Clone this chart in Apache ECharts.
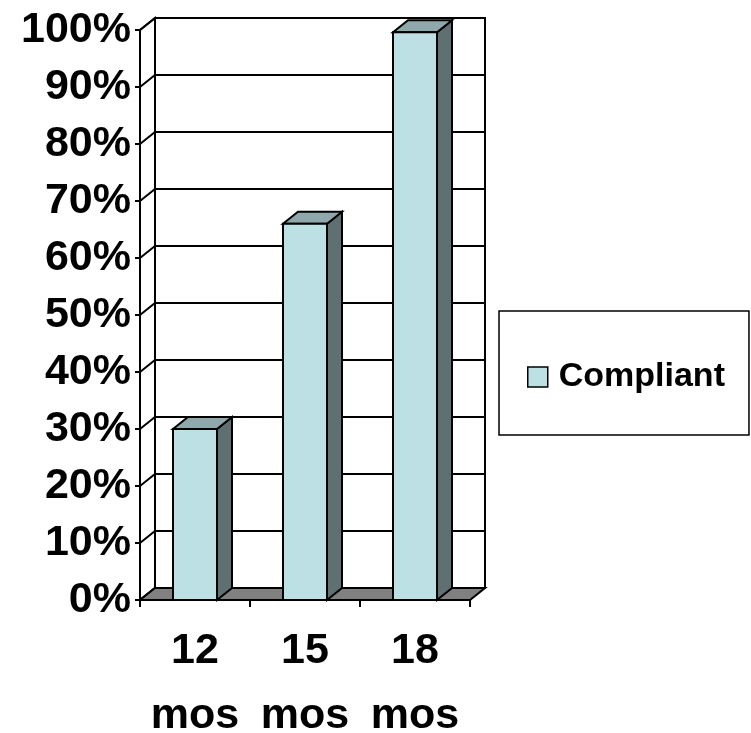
<!DOCTYPE html>
<html>
<head>
<meta charset="utf-8">
<script src="https://cdn.jsdelivr.net/npm/echarts@6/dist/echarts.min.js"></script>
<style>
  html, body { margin: 0; padding: 0; background: #fff; }
  #chart { width: 751px; height: 733px; }
</style>
</head>
<body>
<div id="chart"></div>
<script>
// chart data
const categories = ['12\nmos', '15\nmos', '18\nmos'];
const compliant = [30, 66, 99.6];
const yTicks = [0, 10, 20, 30, 40, 50, 60, 70, 80, 90, 100];

// 3d look
const DX = 15, DY = -12;
const FRONT = '#BCE0E4', TOP = '#8FA8AB', SIDE = '#5E7072', FLOOR = '#808080';
const LINE = { stroke: '#000', lineWidth: 2 };

function renderWalls(params, api) {
    const cs = params.coordSys;
    const x0 = cs.x, x1 = cs.x + cs.width;
    const yTop = cs.y, yBot = cs.y + cs.height;
    const children = [];
    // back wall
    children.push({
        type: 'polygon',
        shape: { points: [[x0 + DX, yTop + DY], [x1 + DX, yTop + DY], [x1 + DX, yBot + DY], [x0 + DX, yBot + DY]] },
        style: Object.assign({ fill: '#fff' }, LINE)
    });
    // left wall
    children.push({
        type: 'polygon',
        shape: { points: [[x0, yTop], [x0 + DX, yTop + DY], [x0 + DX, yBot + DY], [x0, yBot]] },
        style: Object.assign({ fill: '#fff' }, LINE)
    });
    // gridlines on the walls
    yTicks.forEach(t => {
        const y = api.coord([0, t])[1];
        children.push({
            type: 'polyline',
            shape: { points: [[x0, y], [x0 + DX, y + DY], [x1 + DX, y + DY]] },
            style: Object.assign({ fill: null }, LINE)
        });
    });
    // floor
    children.push({
        type: 'polygon',
        shape: { points: [[x0, yBot], [x1, yBot], [x1 + DX, yBot + DY], [x0 + DX, yBot + DY]] },
        style: Object.assign({ fill: FLOOR }, LINE)
    });
    return { type: 'group', children: children };
}

function renderBar(params, api) {
    const base = api.coord([api.value(0), 0]);
    const top = api.coord([api.value(0), api.value(1)]);
    const w = api.size([1, 0])[0] * 0.4;
    const xa = base[0] - w / 2, xb = base[0] + w / 2;
    const yb = base[1], yt = top[1];
    return {
        type: 'group',
        children: [
            {
                type: 'polygon',
                shape: { points: [[xb, yt], [xb + DX, yt + DY], [xb + DX, yb + DY], [xb, yb]] },
                style: Object.assign({ fill: SIDE }, LINE)
            },
            {
                type: 'polygon',
                shape: { points: [[xa, yt], [xb, yt], [xb + DX, yt + DY], [xa + DX, yt + DY]] },
                style: Object.assign({ fill: TOP }, LINE)
            },
            {
                type: 'rect',
                shape: { x: xa, y: yt, width: w, height: yb - yt },
                style: Object.assign({ fill: FRONT }, LINE)
            }
        ]
    };
}

const chart = echarts.init(document.getElementById('chart'));
chart.setOption({
    animation: false,
    backgroundColor: '#fff',
    textStyle: { fontFamily: 'Liberation Sans, Arial, sans-serif' },
    grid: { left: 140, right: 281, top: 30, bottom: 133, containLabel: false, outerBoundsMode: 'none' },
    legend: {
        data: ['Compliant'],
        left: 499,
        top: 311,
        orient: 'vertical',
        padding: [49, 24, 41, 28],
        borderColor: '#000',
        borderWidth: 1.5,
        borderRadius: 0,
        icon: 'rect',
        itemWidth: 20,
        itemHeight: 20,
        itemStyle: { color: FRONT, borderColor: '#000', borderWidth: 1.5 },
        textStyle: { fontSize: 34, fontWeight: 'bold', color: '#000', padding: [0, 0, 0, 6] }
    },
    xAxis: {
        type: 'category',
        data: categories,
        axisLine: { show: true, lineStyle: { color: '#000', width: 2 } },
        axisTick: { show: true, length: 7, lineStyle: { color: '#000', width: 2 } },
        axisLabel: { interval: 0, fontSize: 43, fontWeight: 'bold', color: '#000', lineHeight: 65, margin: 19 },
        splitLine: { show: false }
    },
    yAxis: {
        type: 'value',
        min: 0,
        max: 100,
        interval: 10,
        axisLine: { show: true, lineStyle: { color: '#000', width: 2 } },
        axisTick: { show: true, length: 5, lineStyle: { color: '#000', width: 2 } },
        axisLabel: { formatter: '{value}%', fontSize: 43, fontWeight: 'bold', color: '#000', margin: 9 },
        splitLine: { show: false }
    },
    series: [
        {
            name: 'walls',
            type: 'custom',
            renderItem: renderWalls,
            data: [[0, 0]],
            silent: true,
            z: 1
        },
        {
            name: 'Compliant',
            type: 'custom',
            renderItem: renderBar,
            itemStyle: { color: FRONT },
            data: compliant.map((v, i) => [i, v]),
            z: 2
        }
    ]
});
</script>
</body>
</html>
